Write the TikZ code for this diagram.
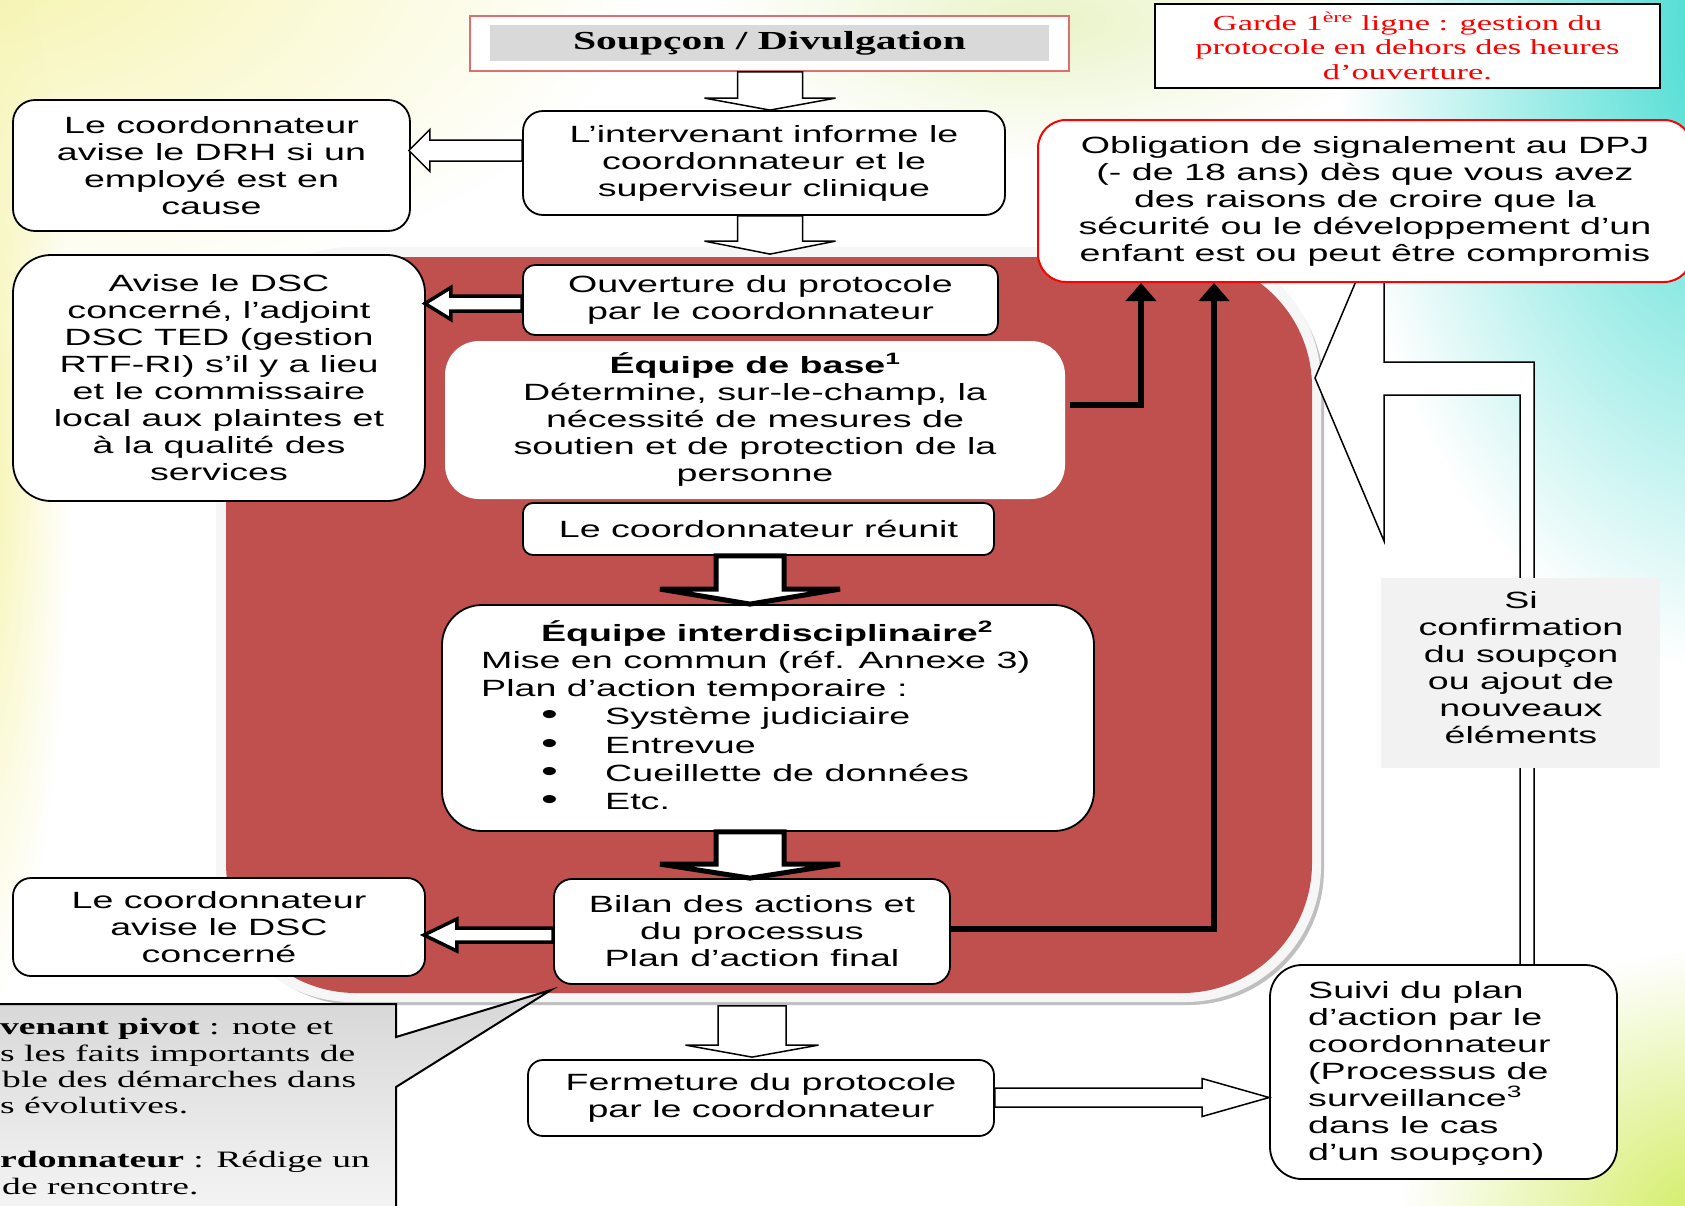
\documentclass[tikz,border=0pt]{standalone}
\usepackage{fontspec}
\setmainfont{Liberation Sans}[FakeStretch=1.6]
\newfontfamily\serifstretch{Liberation Serif}[FakeStretch=1.6]
\usetikzlibrary{calc,fadings,arrows.meta}
\definecolor{redreg}{RGB}{192,80,77}
\definecolor{bgyellow}{RGB}{246,244,170}
\definecolor{bgcyan}{RGB}{60,218,208}
\definecolor{bggreen}{RGB}{208,236,90}
\definecolor{bglime}{RGB}{234,244,200}
\definecolor{soupred}{RGB}{224,110,110}
\definecolor{soupgray}{RGB}{217,217,217}
\definecolor{sigray}{RGB}{242,242,242}
\tikzfading[name=bgfade, inner color=transparent!0, outer color=transparent!100]
\newcommand\mainsz{\fontsize{23.5pt}{27pt}\selectfont}
\newcommand\gardesz{\serifstretch\fontsize{21.5pt}{24.7pt}\selectfont}
\newcommand\soupsz{\serifstretch\bfseries\fontsize{26pt}{30pt}\selectfont}
\newcommand\calsz{\serifstretch\fontsize{23.5pt}{26.5pt}\selectfont}
\newcommand\bul{\makebox[124pt][l]{\hspace*{60pt}{\fontsize{30pt}{28pt}\selectfont\textbullet}}}
\newcommand\varrowD[6]{\draw[#1] let \p1=(#2), \p2=(#3) in (\x1-#4,\y1) -- (\x1+#4,\y1) -- (\x1+#4,\y2+#6) -- (\x1+#5,\y2+#6) -- (\x1,\y2) -- (\x1-#5,\y2+#6) -- (\x1-#4,\y2+#6) -- cycle;}
\newcommand\harrowL[6]{\draw[#1] let \p1=(#2), \p2=(#3) in (\x1,\y1+#4) -- (\x2+#6,\y1+#4) -- (\x2+#6,\y1+#5) -- (\x2,\y1) -- (\x2+#6,\y1-#5) -- (\x2+#6,\y1-#4) -- (\x1,\y1-#4) -- cycle;}
\newcommand\harrowR[6]{\draw[#1] let \p1=(#2), \p2=(#3) in (\x1,\y1+#4) -- (\x2-#6,\y1+#4) -- (\x2-#6,\y1+#5) -- (\x2,\y1) -- (\x2-#6,\y1-#5) -- (\x2-#6,\y1-#4) -- (\x1,\y1-#4) -- cycle;}
\begin{document}
\begin{tikzpicture}[x=1pt,y=-1pt,
  box/.style={draw=black, line width=1.8pt, fill=white, rounded corners=#1, inner sep=0pt, align=center, font=\mainsz},
  box/.default=18pt,
  txt/.style={inner sep=0pt, font=\mainsz},
  caltxt/.style={inner sep=0pt, font=\calsz, anchor=base west},
  hollow/.style={draw=black, fill=white, line width=1.5pt, line join=miter},
  blkhollow/.style={draw=black, fill=white, line width=3.5pt, line join=miter},
  fathollow/.style={draw=black, fill=white, line width=5pt, line join=miter},
  blkconn/.style={draw=black, line width=6pt, line join=miter, -{Triangle[width=30pt,length=18pt]}}]
\path[use as bounding box] (0,0) rectangle (1685,1205);
\clip (0,0) rectangle (1685,1205);
% background
\fill[white] (0,0) rectangle (1685,1205);
\fill[bgyellow, path fading=bgfade] (-50,-50) ellipse (700 and 360);
\fill[bgyellow, path fading=bgfade] (-20,450) ellipse (90 and 560);
\fill[bglime, path fading=bgfade] (1050,20) ellipse (340 and 140);
\fill[bgcyan, path fading=bgfade] (1740,30) ellipse (400 and 640);
\fill[bggreen, path fading=bgfade] (1720,1230) ellipse (320 and 280);
% red region
\fill[gray!50, rounded corners=136] (222,253) rectangle (1324,1005);
\fill[gray!7, rounded corners=136] (216,247) rectangle (1321,1002);
\fill[redreg, rounded corners=130] (226,257) rectangle (1312,993);
% callout
\coordinate (calltip) at (551,990);
\shadedraw[top color=gray!32, bottom color=gray!8, draw=black, line width=2pt] (-10,1004) -- (396,1004) -- (396,1037) -- (calltip) -- (396,1087) -- (396,1215) -- (-10,1215) -- cycle;
\node[caltxt] (cal1) at (0,1034) {\textbf{venant pivot} : note et};
\node[caltxt] (cal2) at (0,1061) {s les faits importants de};
\node[caltxt] (cal3) at (2,1087) {ble des démarches dans};
\node[caltxt] (cal4) at (0,1113) {s évolutives.};
\node[caltxt] (cal5) at (0,1167) {\textbf{rdonnateur} : Rédige un};
\node[caltxt] (cal6) at (2,1194) {de rencontre.};
% right bent arrow
\coordinate (redtip) at (1315,378);
\draw[hollow] (redtip) -- (1384,215) -- (1384,362) -- (1534,362) -- (1534,965) -- (1520,965) -- (1520,395) -- (1384,395) -- (1384,541) -- cycle;
% nodes
\node[draw=soupred, line width=1.5pt, fill=white, inner sep=0pt, minimum width=599pt, minimum height=55pt, font=\soupsz,
  path picture={\fill[soupgray] ($(path picture bounding box.north west)+(20,9)$) rectangle ($(path picture bounding box.south east)+(-20,-10)$);}] (soup) at (769.5,43.5) {Soupçon / Divulgation};
\node[draw=black, line width=2.5pt, fill=white, inner sep=0pt, minimum width=505pt, minimum height=84pt, align=center, font=\gardesz, text=red] (garde) at (1407.5,46) {Garde 1\textsuperscript{ère} ligne : gestion du\\protocole en dehors des heures\\d’ouverture.};
\node[box=20pt, minimum width=482pt, minimum height=104pt] (inter) at (764,163) {L’intervenant informe le\\coordonnateur et le\\superviseur clinique};
\node[box=22pt, minimum width=397pt, minimum height=131pt] (drh) at (211.5,165.5) {Le coordonnateur\\avise le DRH si un\\employé est en\\cause};
\node[box=12pt, minimum width=475pt, minimum height=70pt] (ouv) at (760.5,300) {Ouverture du protocole\\par le coordonnateur};
\node[box=38pt, minimum width=412pt, minimum height=246pt] (avise) at (219,378) {Avise le DSC\\concerné, l’adjoint\\DSC TED (gestion\\RTF-RI) s’il y a lieu\\et le commissaire\\local aux plaintes et\\à la qualité des\\services};
\node[box=34pt, draw=none, minimum width=620pt, minimum height=158pt] (base) at (755,420) {\textbf{Équipe de base\textsuperscript{1}}\\Détermine, sur-le-champ, la\\nécessité de mesures de\\soutien et de protection de la\\personne};
\node[box=10pt, minimum width=471pt, minimum height=52pt] (reunit) at (758.5,529) {Le coordonnateur réunit};
\node[box=40pt, minimum width=652pt, minimum height=226pt] (interd) at (768,718) {};
\node[txt] (interdT) at (767,634) {\textbf{Équipe interdisciplinaire\textsuperscript{2}}};
\node[txt, anchor=north west, align=left, font={\fontsize{23.5pt}{28.2pt}\selectfont}] (interdL) at (481,651) {Mise en commun (réf. Annexe 3)\\Plan d’action temporaire :\\\bul Système judiciaire\\\bul Entrevue\\\bul Cueillette de données\\\bul Etc.};
\node[box=18pt, minimum width=396pt, minimum height=105pt] (bilan) at (752,931.5) {Bilan des actions et\\du processus\\Plan d’action final};
\node[box=18pt, minimum width=412pt, minimum height=98pt] (dsc) at (219,927) {Le coordonnateur\\avise le DSC\\concerné};
\node[box=15pt, minimum width=466pt, minimum height=76pt] (ferm) at (761,1098) {Fermeture du protocole\\par le coordonnateur};
\node[box=32pt, minimum width=347pt, minimum height=214pt] (suivi) at (1443.5,1072) {};
\node[txt, anchor=west, align=left] (suiviT) at (1308,1073) {Suivi du plan\\d’action par le\\coordonnateur\\(Processus de\\surveillance\textsuperscript{3}\\dans le cas\\d’un soupçon)};
\node[box=28pt, draw=red, line width=2pt, minimum width=654pt, minimum height=162pt] (oblig) at (1365,201) {Obligation de signalement au DPJ\\(- de 18 ans) dès que vous avez\\des raisons de croire que la\\sécurité ou le développement d’un\\enfant est ou peut être compromis};
\node[fill=sigray, inner sep=0pt, minimum width=279pt, minimum height=190pt] (si) at (1520.5,673) {};
\node[txt, align=center] (siT) at (1521,668) {Si\\confirmation\\du soupçon\\ou ajout de\\nouveaux\\éléments};
% block arrows
\varrowD{hollow}{$(soup.south)+(0.5,0)$}{inter.north}{32.5pt}{65.5pt}{12pt}
\varrowD{hollow}{$(inter.south)+(6,0)$}{$(ouv.north)+(0,-10)$}{32.5pt}{65.5pt}{13pt}
\varrowD{fathollow}{$(reunit.south)+(-8.5,0)$}{interd.north}{34pt}{90pt}{15pt}
\varrowD{fathollow}{$(interd.south)+(-18,0)$}{bilan.north}{34pt}{90pt}{14pt}
\varrowD{hollow}{$(bilan.south)+(0,21)$}{$(ferm.north)+(0,-2)$}{34pt}{66.5pt}{12pt}
\harrowL{hollow}{$(inter.west)+(0,-12.5)$}{$(drh.east)+(-2,0)$}{10.5pt}{21pt}{21pt}
\harrowL{blkhollow}{$(ouv.west)+(0,3.5)$}{$(avise.east)+(-1,0)$}{7.5pt}{16pt}{26pt}
\harrowL{blkhollow}{$(bilan.west)+(0,3.5)$}{$(dsc.east)+(-2,0)$}{7pt}{16pt}{33pt}
\harrowR{hollow}{$(ferm.east)+(0,-0.5)$}{suivi.west}{9.5pt}{19pt}{67pt}
% black connectors
\draw[blkconn] ($(base.east)+(4,-15)$) -| ($(oblig.south west)+(104,0)$);
\draw[blkconn] ($(bilan.east)+(0,-2.5)$) -| ($(oblig.south west)+(177,0)$);
\end{tikzpicture}
\end{document}
